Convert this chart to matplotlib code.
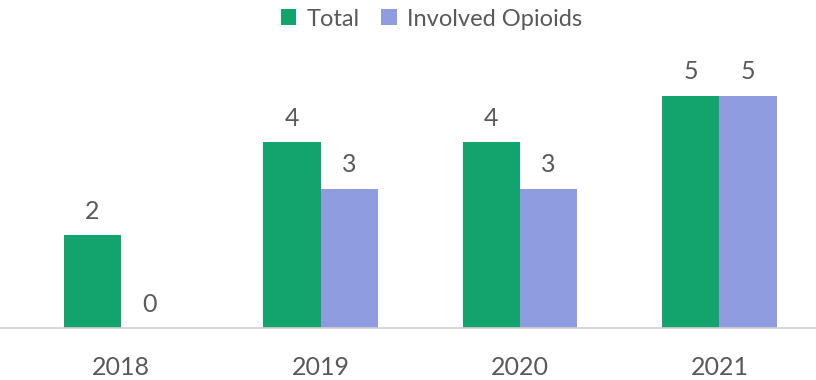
import numpy as np
import matplotlib.pyplot as plt

# Data
years = ["2018", "2019", "2020", "2021"]
total = [2, 4, 4, 5]
opioids = [0, 3, 3, 5]

green = "#13a36c"
lavender = "#8f9ce0"
text_gray = "#595959"

plt.rcParams["font.family"] = ["Lato", "DejaVu Sans"]

fig = plt.figure(figsize=(8.16, 3.8), dpi=100)
ax = fig.add_axes([0, 52 / 380, 1, 288 / 380])

x = np.arange(len(years))
w = 0.286
b1 = ax.bar(x - w / 2, total, w, color=green, label="Total")
b2 = ax.bar(x + w / 2, opioids, w, color=lavender, label="Involved Opioids")

for bars in (b1, b2):
    ax.bar_label(bars, padding=9, fontsize=18, color=text_gray)

ax.set_xlim(-0.607, 3.484)
ax.set_ylim(0, 6.2)
ax.set_xticks(x)
ax.set_xticklabels(years, fontsize=18, color=text_gray)
ax.tick_params(axis="x", length=0, pad=20)
ax.set_yticks([])
for side in ("top", "right", "left"):
    ax.spines[side].set_visible(False)
ax.spines["bottom"].set_color("#d0d0d0")
ax.spines["bottom"].set_linewidth(1.2)

fig.legend(handles=[b1, b2], loc="center", bbox_to_anchor=(0.529, 1 - 19 / 380),
           ncol=2, frameon=False, fontsize=17, labelcolor=text_gray,
           handlelength=0.65, handleheight=0.65, handletextpad=0.45, columnspacing=0.9)

fig.savefig("out.png", dpi=100)
